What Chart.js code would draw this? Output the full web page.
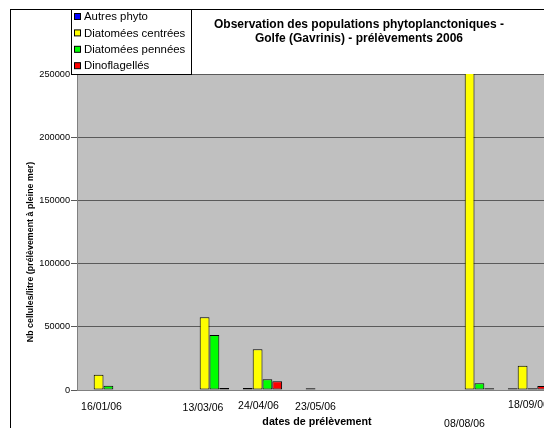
<!DOCTYPE html>
<html>
<head>
<meta charset="utf-8">
<script src="https://cdn.jsdelivr.net/npm/chart.js@4.4.0/dist/chart.umd.min.js"></script>
<style>
  html, body { margin: 0; padding: 0; background: #fff; overflow: hidden; }
  #wrap { width: 544px; height: 428px; overflow: hidden; position: relative; }
  canvas { display: block; }
</style>
</head>
<body>
<div id="wrap"><canvas id="chart" width="600" height="428"></canvas></div>
<script>
// one slot per month, Jan -> Sep 2006 (empty months have no sample)
const dates = ['16/01/06', '', '13/03/06', '24/04/06', '23/05/06', '', '', '08/08/06', '18/09/06'];

const autresPhyto = [0, null, 0, 1500, 0, null, null, 0, 1400];
const diatomeesCentrees = [12100, null, 57500, 32200, 1400, null, null, 300000, 19200];
const diatomeesPennees = [3400, null, 43500, 8500, 0, null, null, 5300, 1400];
const dinoflagelles = [0, null, 1500, 6900, 0, null, null, 1400, 3200];

const titleLines = ['Observation des populations phytoplanctoniques -', 'Golfe (Gavrinis) - prélèvements 2006'];
const yTitle = 'Nb cellules/litre (prélèvement à pleine mer)';
const xTitle = 'dates de prélèvement';

// the date labels are not quite centred under their groups in the original
const labelNudge = [[-2, 0.5], [0, 0], [-6.5, 1], [-4, -0.5], [0, 0], [0, 0], [0, 0], [-10, 17], [1, -1.5]];

const FONT = '"Liberation Sans", Arial, sans-serif';

const decorations = {
  id: 'decorations',
  beforeDraw(chart) {
    const { ctx, chartArea: a } = chart;
    ctx.save();
    ctx.fillStyle = '#ffffff';
    ctx.fillRect(0, 0, chart.width, chart.height);
    ctx.fillStyle = '#c0c0c0';
    ctx.fillRect(a.left, a.top, a.right - a.left, a.bottom - a.top);
    // outer chart frame (runs off the picture on the right and bottom)
    ctx.strokeStyle = '#000';
    ctx.lineWidth = 1;
    ctx.strokeRect(10.5, 9.5, 1000, 1000);
    ctx.restore();
  },
  afterDraw(chart) {
    const { ctx } = chart;
    const xScale = chart.scales.x;
    ctx.save();

    // title
    ctx.fillStyle = '#000';
    ctx.textAlign = 'center';
    ctx.textBaseline = 'middle';
    ctx.font = 'bold 12px ' + FONT;
    ctx.fillText(titleLines[0], 359, 25);
    ctx.fillText(titleLines[1], 359, 38.5);

    // date labels
    ctx.font = '10.5px ' + FONT;
    dates.forEach((d, i) => {
      if (!d) return;
      const x = xScale.getPixelForValue(i) + labelNudge[i][0];
      ctx.fillText(d, x, 407 + labelNudge[i][1]);
    });

    // axis titles
    ctx.font = 'bold 10.7px ' + FONT;
    ctx.fillText(xTitle, 317, 422.5);
    ctx.save();
    ctx.translate(30.5, 252);
    ctx.rotate(-Math.PI / 2);
    ctx.font = 'bold 8.9px ' + FONT;
    ctx.fillText(yTitle, 0, 0);
    ctx.restore();

    // legend box, sits over the top of the plot
    ctx.fillStyle = '#fff';
    ctx.fillRect(71, 9, 120, 65);
    ctx.strokeStyle = '#000';
    ctx.strokeRect(71.5, 9.5, 120, 65);
    ctx.font = '11.4px ' + FONT;
    ctx.textAlign = 'left';
    chart.data.datasets.forEach((ds, i) => {
      const y = 17 + i * 16.4;
      ctx.fillStyle = ds.backgroundColor;
      ctx.fillRect(74.5, y - 3.5, 6, 6);
      ctx.strokeStyle = '#000';
      ctx.strokeRect(74.5, y - 3.5, 6, 6);
      ctx.fillStyle = '#000';
      ctx.fillText(ds.label, 84, y);
    });
    ctx.restore();
  }
};

const barStyle = { borderColor: '#000000', borderWidth: 1, borderSkipped: false };

new Chart(document.getElementById('chart'), {
  type: 'bar',
  data: {
    labels: dates,
    datasets: [
      { label: 'Autres phyto', data: autresPhyto, backgroundColor: '#0000ff', ...barStyle },
      { label: 'Diatomées centrées', data: diatomeesCentrees, backgroundColor: '#ffff00', ...barStyle },
      { label: 'Diatomées pennées', data: diatomeesPennees, backgroundColor: '#00ff00', ...barStyle },
      { label: 'Dinoflagellés', data: dinoflagelles, backgroundColor: '#ff0000', ...barStyle }
    ]
  },
  options: {
    responsive: false,
    animation: false,
    layout: { padding: { top: 74, right: 46, left: 0, bottom: 0 } },
    datasets: { bar: { categoryPercentage: 0.74, barPercentage: 1 } },
    plugins: {
      legend: { display: false },
      title: { display: false },
      tooltip: { enabled: false }
    },
    scales: {
      x: {
        type: 'category',
        grid: { display: false },
        border: { color: '#808080' },
        ticks: { display: false },
        afterFit(scale) { scale.height = 38; }
      },
      y: {
        min: 0,
        max: 250000,
        ticks: {
          stepSize: 50000,
          padding: 1,
          color: '#000',
          font: { family: FONT, size: 9.2 },
          callback: (v) => String(v)
        },
        grid: { color: '#5a5a5a', tickLength: 6, tickColor: '#5a5a5a' },
        border: { color: '#808080' },
        afterFit(scale) { scale.width = 77; }
      }
    }
  },
  plugins: [decorations]
});
</script>
</body>
</html>
